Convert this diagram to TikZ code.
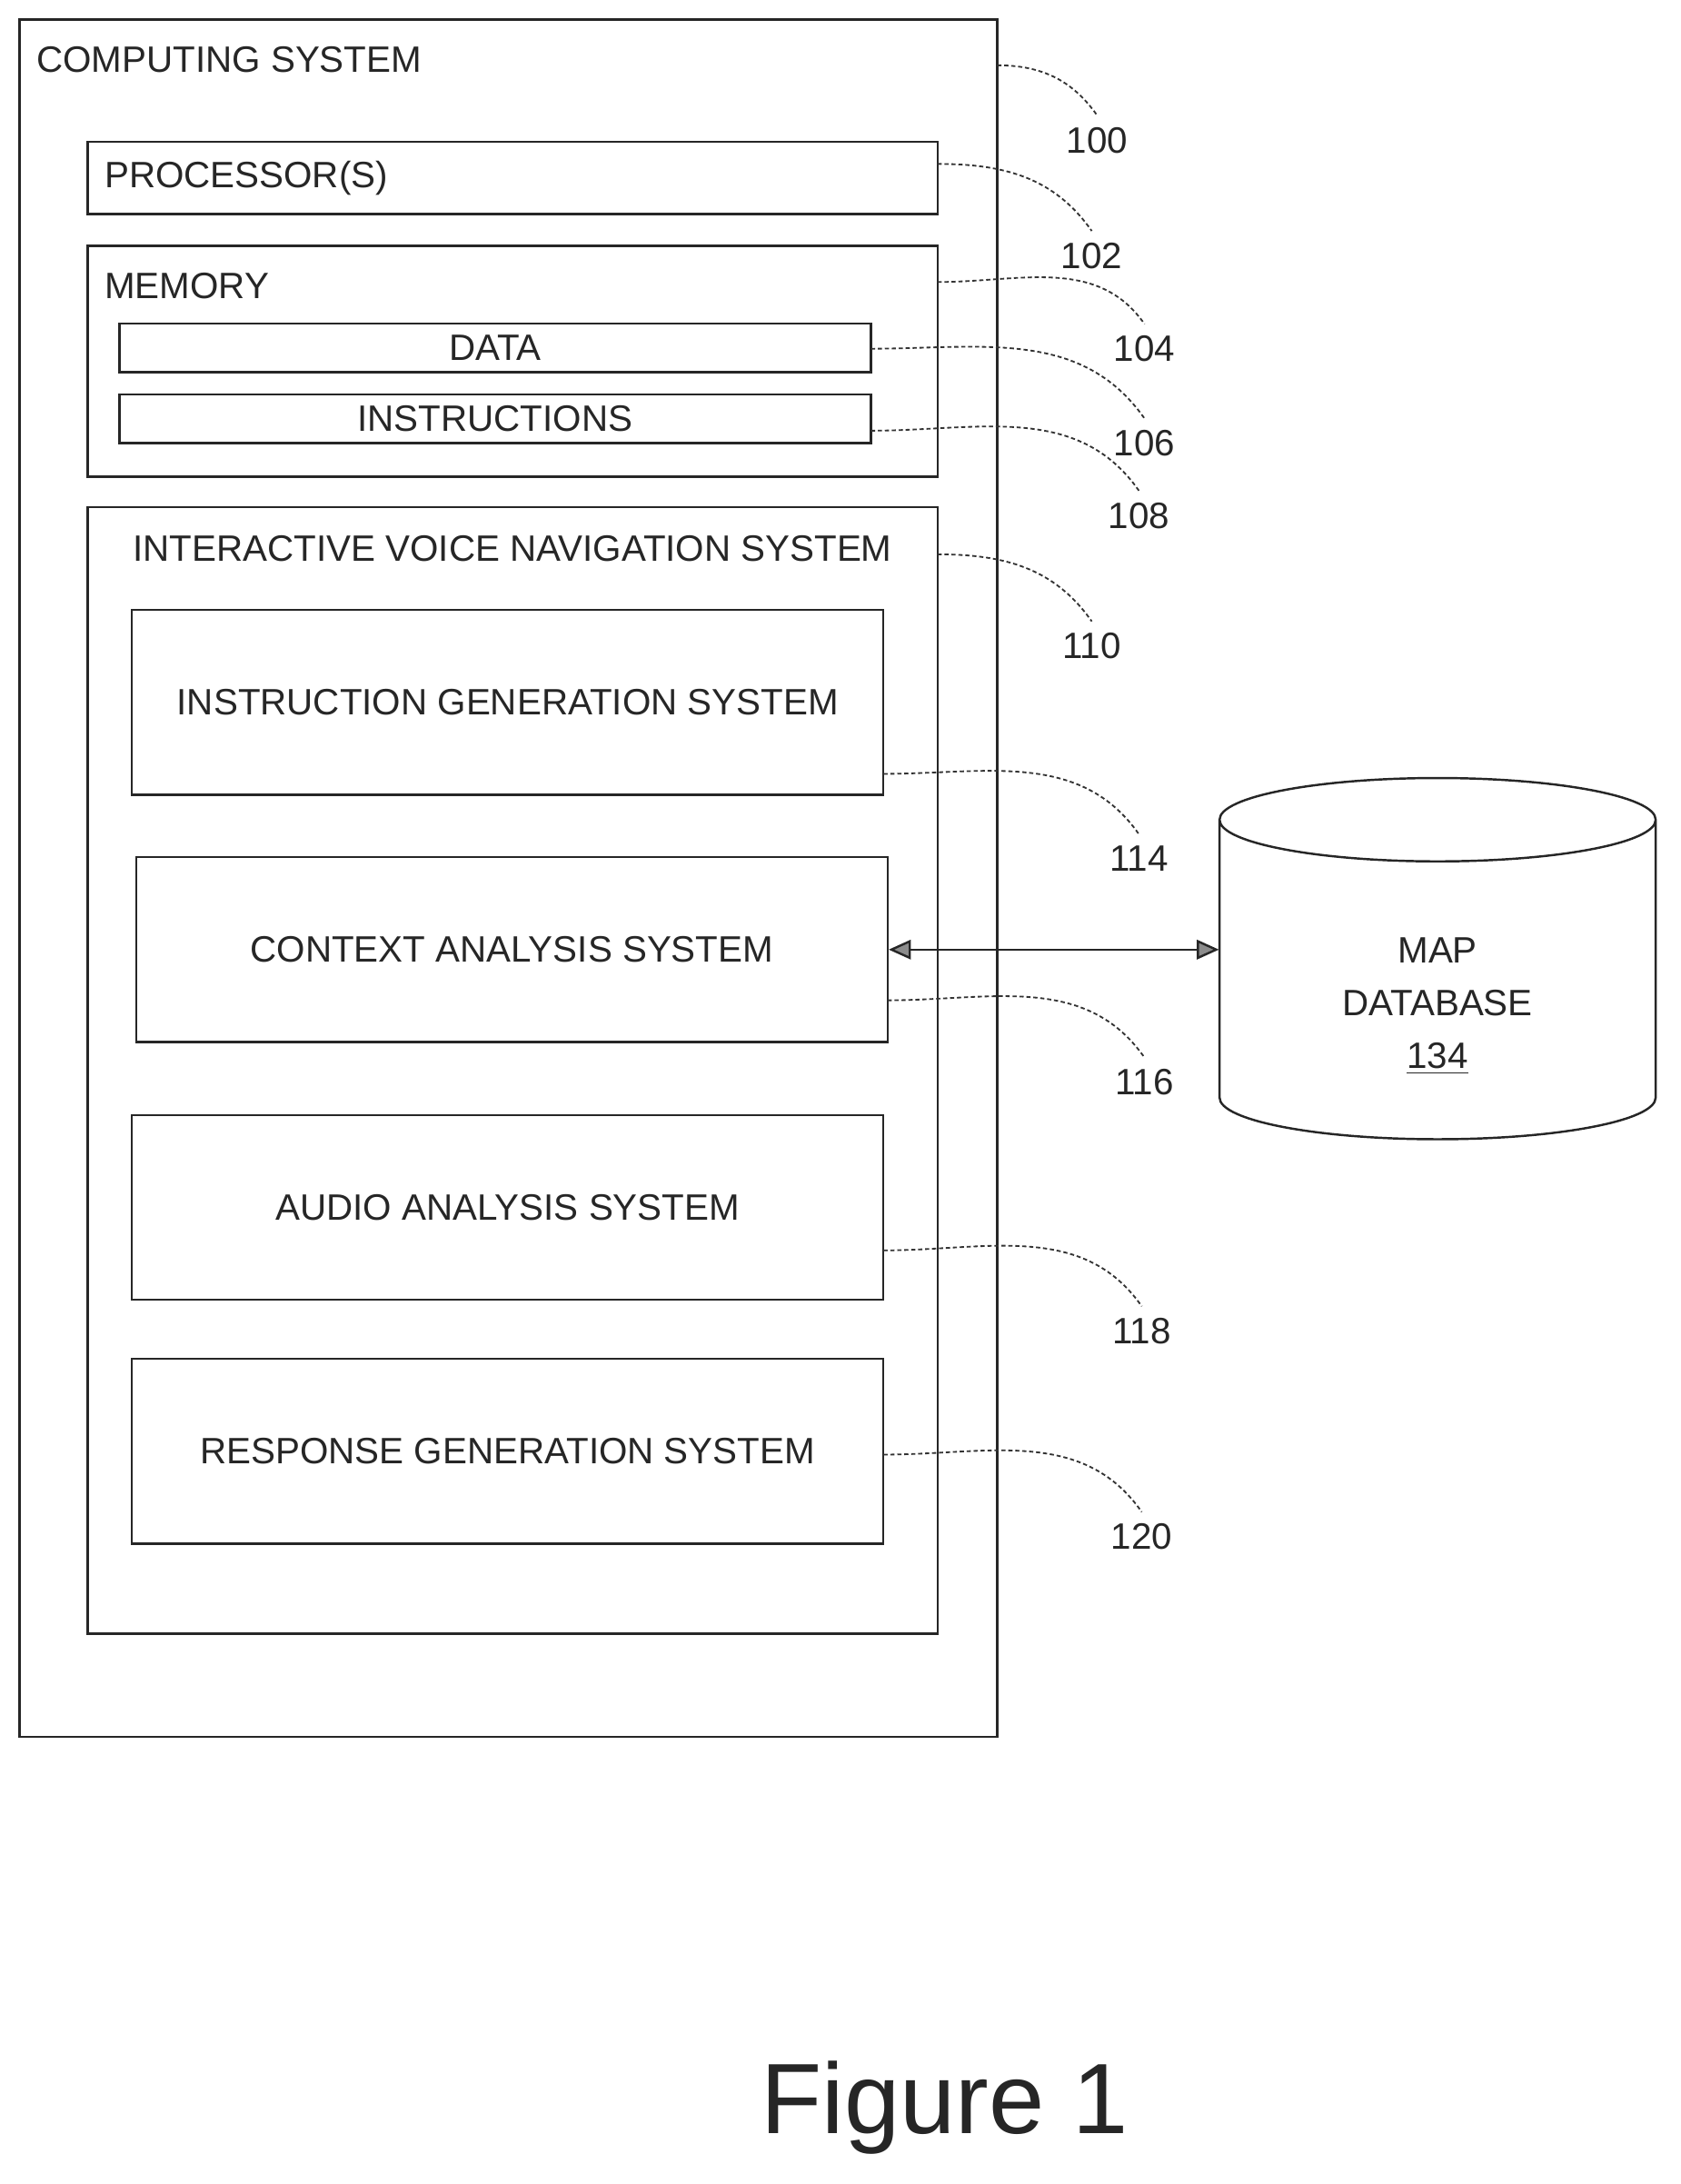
\documentclass[tikz,border=0pt]{standalone}
\usepackage{fontspec}
\setmainfont{Liberation Sans}
\usetikzlibrary{arrows.meta}
\begin{document}
\begin{tikzpicture}[x=0.5pt,y=-0.5pt,
  box/.style={draw=black!85,line width=0.8pt,inner sep=0pt},
  lbl/.style={font=\fontsize{13.2}{15}\selectfont,text=black!85,inner sep=0pt},
  lead/.style={draw=black!80,line width=0.6pt,dash pattern=on 1.5pt off 1pt}]
\useasboundingbox (0,0) rectangle (1210,1572);
\node[box,minimum width=352pt,minimum height=618pt] (outer) at (366,632) {};
\node[lbl,anchor=west] (tcs) at (26,43) {COMPUTING SYSTEM};
\node[box,minimum width=306pt,minimum height=26pt] (proc) at (369,128) {};
\node[lbl,anchor=west] (tproc) at (75,128) {PROCESSOR(S)};
\node[box,minimum width=306pt,minimum height=83pt] (mem) at (369,260) {};
\node[lbl,anchor=west] (tmem) at (75,206) {MEMORY};
\node[box,minimum width=270.5pt,minimum height=17.5pt,lbl] (data) at (356.5,250.5) {DATA};
\node[box,minimum width=270.5pt,minimum height=17.5pt,lbl] (instr) at (356.5,301.5) {INSTRUCTIONS};
\node[box,minimum width=306pt,minimum height=405.5pt] (ivns) at (369,770.5) {};
\node[lbl] (tivns) at (369,395) {INTERACTIVE VOICE NAVIGATION SYSTEM};
\node[box,lbl,minimum width=270.5pt,minimum height=66.5pt] (igs) at (365.5,505.5) {INSTRUCTION GENERATION SYSTEM};
\node[box,lbl,minimum width=270.5pt,minimum height=66.5pt] (cas) at (368.5,683.5) {CONTEXT ANALYSIS SYSTEM};
\node[box,lbl,minimum width=270.5pt,minimum height=66.5pt] (aas) at (365.5,869) {AUDIO ANALYSIS SYSTEM};
\node[box,lbl,minimum width=270.5pt,minimum height=66.5pt] (rgs) at (365.5,1044.5) {RESPONSE GENERATION SYSTEM};
% database
\node[minimum width=157pt,minimum height=130pt,inner sep=0pt] (db) at (1035,690) {};
\draw[box] (878,590) arc[start angle=180,end angle=360,x radius=157,y radius=-30]
  arc[start angle=0,end angle=180,x radius=157,y radius=-30] -- (878,790)
  arc[start angle=180,end angle=360,x radius=157,y radius=-30] -- (1192,590);
\node[lbl,align=center] (tdb) at (1035,724) {MAP\\[4pt]DATABASE\\[4pt]\underline{134}};
\draw[line width=0.8pt,black!85,{Triangle[length=8pt,width=7pt,fill=black!45]}-{Triangle[length=8pt,width=7pt,fill=black!45]}] (cas.east) -- (cas.east -| db.west);
% leaders
\node[lbl] (n100) at (790,101) {100};
\node[lbl] (n102) at (786,184) {102};
\node[lbl] (n104) at (824,251) {104};
\node[lbl] (n106) at (824,319) {106};
\node[lbl] (n108) at (820,371) {108};
\node[lbl] (n110) at (786,465) {110};
\node[lbl] (n114) at (820,618) {114};
\node[lbl] (n116) at (824,779) {116};
\node[lbl] (n118) at (822,958) {118};
\node[lbl] (n120) at (822,1106) {120};
\coordinate (c100) at (718,47);
\coordinate (c102) at (675,118);
\coordinate (c104) at (675,203);
\coordinate (c106) at (627,251);
\coordinate (c108) at (627,310);
\coordinate (c110) at (675,399);
\coordinate (c114) at (636,557);
\coordinate (c116) at (639,720);
\coordinate (c118) at (636,900);
\coordinate (c120) at (636,1047);
\foreach \a in {100,102,104,106,108,110,114,116,118,120}
  \draw[lead] (c\a) to[out=0,in=125] ([yshift=4pt]n\a.north);
\node[font=\fontsize{36}{40}\selectfont,text=black!85] (fig) at (680,1517) {Figure 1};
\end{tikzpicture}
\end{document}
